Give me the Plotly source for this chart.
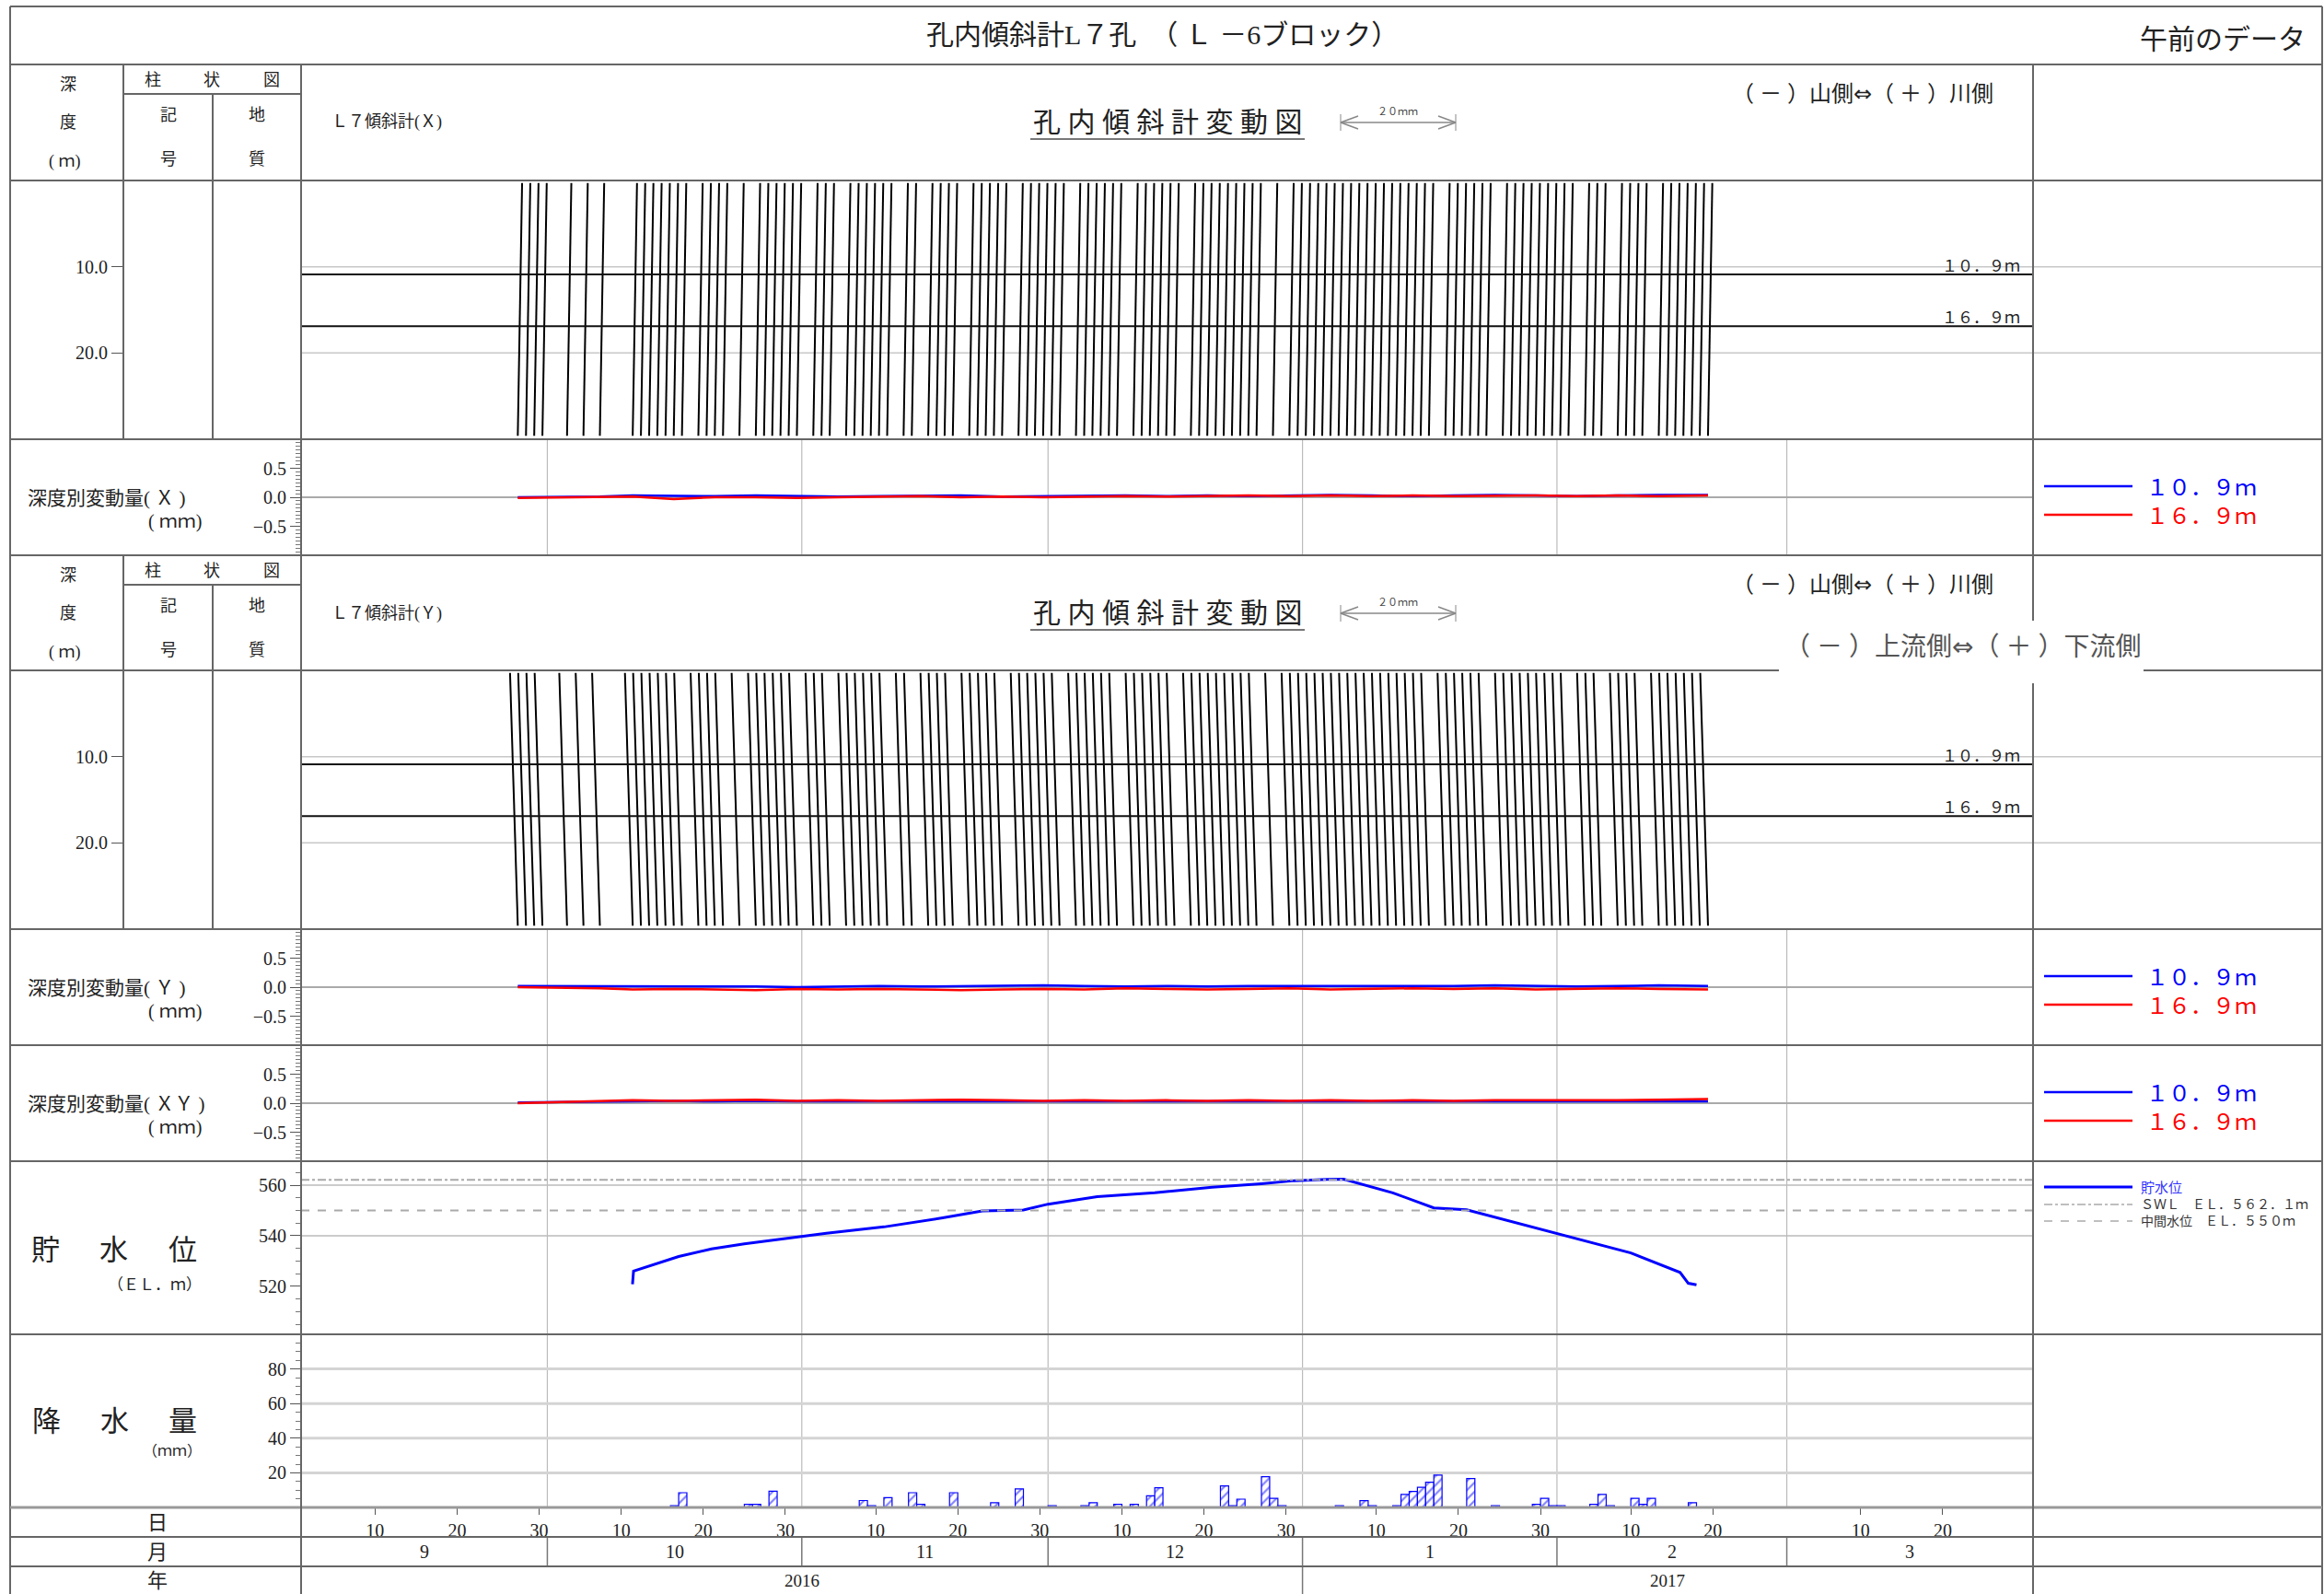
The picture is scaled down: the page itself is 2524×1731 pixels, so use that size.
import plotly.graph_objects as go
import pandas as pd

W, H = 2524, 1731
FONT = "Liberation Serif, Noto Sans CJK JP, serif"

# ---------------- data ----------------
X_START = "2016-09-01"
X_END = "2017-03-31"

title_text = "孔内傾斜計L７孔　（ Ｌ －6ブロック）"
note_text = "午前のデータ"

month_starts = ["2016-09-01", "2016-10-01", "2016-11-01", "2016-12-01",
                "2017-01-01", "2017-02-01", "2017-03-01", "2017-03-31"]
month_labels = ["9", "10", "11", "12", "1", "2", "3"]
year_spans = [("2016-09-01", "2017-01-01"), ("2017-01-01", "2017-03-31")]
year_labels = ["2016", "2017"]
day_ticks = ["2016-09-10", "2016-09-20", "2016-09-30", "2016-10-10", "2016-10-20",
             "2016-10-30", "2016-11-10", "2016-11-20", "2016-11-30", "2016-12-10",
             "2016-12-20", "2016-12-30", "2017-01-10", "2017-01-20", "2017-01-30",
             "2017-02-10", "2017-02-20", "2017-03-10", "2017-03-20"]

# inclinometer profile measurement dates
profile_dates = [
    "2016-09-27", "2016-09-28", "2016-09-29", "2016-09-30", "2016-10-03", "2016-10-05",
    "2016-10-07", "2016-10-11", "2016-10-12", "2016-10-13", "2016-10-14", "2016-10-15",
    "2016-10-16", "2016-10-17", "2016-10-19", "2016-10-20", "2016-10-21", "2016-10-22",
    "2016-10-24", "2016-10-26", "2016-10-27", "2016-10-28", "2016-10-29", "2016-10-30",
    "2016-10-31", "2016-11-02", "2016-11-03", "2016-11-04", "2016-11-06", "2016-11-07",
    "2016-11-08", "2016-11-09", "2016-11-10", "2016-11-11", "2016-11-13", "2016-11-14",
    "2016-11-16", "2016-11-17", "2016-11-18", "2016-11-19", "2016-11-21", "2016-11-22",
    "2016-11-23", "2016-11-24", "2016-11-25", "2016-11-27", "2016-11-28", "2016-11-29",
    "2016-11-30", "2016-12-01", "2016-12-02", "2016-12-04", "2016-12-05", "2016-12-06",
    "2016-12-07", "2016-12-08", "2016-12-09", "2016-12-11", "2016-12-12", "2016-12-13",
    "2016-12-14", "2016-12-15", "2016-12-16", "2016-12-18", "2016-12-19", "2016-12-20",
    "2016-12-21", "2016-12-22", "2016-12-23", "2016-12-24", "2016-12-25", "2016-12-26",
    "2016-12-28", "2016-12-30", "2016-12-31", "2017-01-01", "2017-01-02", "2017-01-03",
    "2017-01-04", "2017-01-05", "2017-01-06", "2017-01-07", "2017-01-08", "2017-01-09",
    "2017-01-10", "2017-01-11", "2017-01-12", "2017-01-13", "2017-01-14", "2017-01-15",
    "2017-01-16", "2017-01-18", "2017-01-19", "2017-01-20", "2017-01-21", "2017-01-22",
    "2017-01-23", "2017-01-25", "2017-01-26", "2017-01-27", "2017-01-28", "2017-01-29",
    "2017-01-30", "2017-01-31", "2017-02-01", "2017-02-02", "2017-02-04", "2017-02-05",
    "2017-02-06", "2017-02-08", "2017-02-09", "2017-02-10", "2017-02-11", "2017-02-13",
    "2017-02-14", "2017-02-15", "2017-02-16", "2017-02-17", "2017-02-18", "2017-02-19",
]
prof_depth = [0.3, 5.0, 9.0, 11.0, 15.0, 19.0, 21.0, 25.0, 29.6]
prof_x_mm = [0.75, 0.62, 0.48, 0.52, 0.36, 0.26, 0.22, 0.1, 0.0]
prof_y_mm = [-1.35, -1.15, -0.95, -0.85, -0.7, -0.48, -0.42, -0.22, 0.0]

# depth-wise displacement (mm)
dev_dates = ["2016-09-27", "2016-10-03", "2016-10-07", "2016-10-11", "2016-10-16",
             "2016-10-21", "2016-10-26", "2016-10-31", "2016-11-05", "2016-11-10",
             "2016-11-15", "2016-11-20", "2016-11-25", "2016-11-30", "2016-12-05",
             "2016-12-10", "2016-12-15", "2016-12-20", "2016-12-25", "2016-12-30",
             "2017-01-04", "2017-01-09", "2017-01-14", "2017-01-19", "2017-01-24",
             "2017-01-29", "2017-02-03", "2017-02-08", "2017-02-13", "2017-02-19"]
dev_x_109 = [0.00, 0.01, 0.01, 0.03, 0.02, 0.02, 0.03, 0.02, 0.01, 0.02, 0.02, 0.03, 0.01, 0.02, 0.02,
             0.03, 0.02, 0.03, 0.02, 0.03, 0.04, 0.03, 0.02, 0.03, 0.04, 0.03, 0.02, 0.03, 0.04, 0.04]
dev_x_169 = [-0.01, 0.00, 0.00, 0.01, -0.03, 0.00, 0.00, -0.01, 0.00, 0.01, 0.02, 0.00, 0.01, 0.00, 0.01,
             0.02, 0.01, 0.02, 0.03, 0.02, 0.03, 0.02, 0.03, 0.02, 0.03, 0.03, 0.02, 0.03, 0.02, 0.03]
dev_y_109 = [0.02, 0.02, 0.01, 0.02, 0.01, 0.02, 0.01, 0.00, 0.01, 0.02, 0.01, 0.02, 0.02, 0.03, 0.02,
             0.01, 0.02, 0.01, 0.02, 0.02, 0.01, 0.02, 0.01, 0.02, 0.03, 0.02, 0.01, 0.02, 0.03, 0.02]
dev_y_169 = [0.00, -0.01, -0.02, -0.04, -0.03, -0.04, -0.05, -0.03, -0.04, -0.03, -0.04, -0.05, -0.04, -0.03, -0.04,
             -0.02, -0.03, -0.04, -0.03, -0.02, -0.04, -0.03, -0.02, -0.03, -0.02, -0.04, -0.03, -0.02, -0.03, -0.04]
dev_xy_109 = [0.01, 0.02, 0.03, 0.03, 0.04, 0.03, 0.04, 0.03, 0.03, 0.04, 0.03, 0.04, 0.03, 0.04, 0.03,
              0.03, 0.04, 0.03, 0.03, 0.04, 0.03, 0.03, 0.04, 0.03, 0.03, 0.04, 0.03, 0.03, 0.04, 0.03]
dev_xy_169 = [0.00, 0.02, 0.04, 0.05, 0.04, 0.05, 0.06, 0.04, 0.05, 0.04, 0.05, 0.06, 0.05, 0.04, 0.05,
              0.04, 0.05, 0.04, 0.05, 0.04, 0.05, 0.04, 0.05, 0.04, 0.05, 0.05, 0.04, 0.05, 0.06, 0.07]

# reservoir water level (EL.m)
wl_dates = ["2016-10-11 09:00", "2016-10-11 12:00", "2016-10-17", "2016-10-21", "2016-10-25",
            "2016-10-29", "2016-11-04", "2016-11-11", "2016-11-18", "2016-11-23", "2016-11-28",
            "2016-12-01", "2016-12-07", "2016-12-14", "2016-12-21", "2016-12-27", "2016-12-31",
            "2017-01-04", "2017-01-06", "2017-01-12", "2017-01-17", "2017-01-21", "2017-02-01",
            "2017-02-10", "2017-02-16", "2017-02-17", "2017-02-18"]
wl_vals = [520.8, 526.0, 531.8, 534.8, 536.8, 538.4, 541.0, 543.5, 547.0, 549.8, 550.2,
           552.5, 555.5, 557.0, 559.2, 560.6, 561.8, 562.3, 562.4, 557.0, 551.0, 550.3, 541.0,
           533.2, 525.5, 521.2, 520.6]
swl_level = 562.1
mid_level = 550.0

# daily precipitation (mm)
rain_dates = ["2016-10-16", "2016-10-17", "2016-10-25", "2016-10-26", "2016-10-28", "2016-11-08",
              "2016-11-09", "2016-11-11", "2016-11-14", "2016-11-15", "2016-11-19", "2016-11-24",
              "2016-11-27", "2016-12-01", "2016-12-05", "2016-12-06", "2016-12-09", "2016-12-11",
              "2016-12-13", "2016-12-14", "2016-12-22", "2016-12-23", "2016-12-24", "2016-12-27",
              "2016-12-28", "2016-12-29", "2017-01-05", "2017-01-08", "2017-01-09", "2017-01-12",
              "2017-01-13", "2017-01-14", "2017-01-15", "2017-01-16", "2017-01-17", "2017-01-21",
              "2017-01-24", "2017-01-29", "2017-01-30", "2017-01-31", "2017-02-01", "2017-02-05",
              "2017-02-06", "2017-02-07", "2017-02-10", "2017-02-11", "2017-02-12", "2017-02-17"]
rain_vals = [1.0, 8.5, 1.8, 1.8, 9.4, 4.0, 1.0, 5.7, 8.5, 1.8, 8.5, 2.7,
             10.7, 1.0, 1.0, 2.7, 1.8, 1.8, 6.7, 11.4, 12.4, 1.0, 4.8, 17.8,
             5.3, 1.0, 1.0, 3.9, 1.0, 1.0, 7.5, 9.2, 11.6, 14.6, 18.7, 16.7,
             1.0, 1.8, 5.3, 1.0, 1.0, 1.8, 7.5, 1.0, 5.3, 1.8, 5.3, 2.7]

# ---------------- helpers ----------------
T0 = pd.Timestamp(X_START)


def dnum(s):
    return (pd.Timestamp(s) - T0) / pd.Timedelta(days=1)


def px(x):
    return x / W


def py(y):
    return 1 - y / H


MEAS_TIME = 0.4          # morning readings (fraction of day)
MM_TO_DAY = 14.0 / 20.0  # 20 mm scale bar = 14 days of the time axis

PL, PR = 327, 2208       # plot area left / right (px)
LEFT, RIGHT = 11, 2522

shapes = []
annotations = []


def line(x0, y0, x1, y1, color="#666", width=2, dash=None, xref="paper", yref="paper", layer="above"):
    shapes.append(dict(type="line", xref=xref, yref=yref, x0=x0, y0=y0, x1=x1, y1=y1,
                       line=dict(color=color, width=width, dash=dash), layer=layer))


def hpx(y, x0, x1, color="#666", width=2, dash=None, layer="above"):
    line(px(x0), py(y), px(x1), py(y), color, width, dash, layer=layer)


def vpx(x, y0, y1, color="#666", width=2, dash=None, layer="above"):
    line(px(x), py(y0), px(x), py(y1), color, width, dash, layer=layer)


def text(x, y, s, size=19, color="#222", xanchor="center", yanchor="middle", xref="paper"):
    annotations.append(dict(x=x if xref != "paper" else px(x), y=py(y), xref=xref, yref="paper",
                            text=s, showarrow=False, xanchor=xanchor, yanchor=yanchor,
                            font=dict(family=FONT, size=size, color=color)))


ARROW = '<span style="font-family:DejaVu Sans">⇔</span>'

# ---------------- traces ----------------
fig = go.Figure()


def profile_trace(offsets_mm, yaxis):
    xs, ys = [], []
    for d in profile_dates:
        base = dnum(d) + MEAS_TIME
        for dep, mm in zip(prof_depth, offsets_mm):
            xs.append(base + mm * MM_TO_DAY)
            ys.append(dep)
        xs.append(None)
        ys.append(None)
    return go.Scatter(x=xs, y=ys, xaxis="x", yaxis=yaxis, mode="lines",
                      line=dict(color="black", width=2), hoverinfo="skip", showlegend=False)


fig.add_trace(profile_trace(prof_x_mm, "y"))
fig.add_trace(profile_trace(prof_y_mm, "y3"))

dev_x = [dnum(d) + MEAS_TIME for d in dev_dates]
for yax, blue, red in [("y2", dev_x_109, dev_x_169), ("y4", dev_y_109, dev_y_169),
                       ("y5", dev_xy_109, dev_xy_169)]:
    fig.add_trace(go.Scatter(x=dev_x, y=blue, xaxis="x", yaxis=yax, mode="lines",
                             line=dict(color="#0000ff", width=2.5), showlegend=False))
    fig.add_trace(go.Scatter(x=dev_x, y=red, xaxis="x", yaxis=yax, mode="lines",
                             line=dict(color="#ff0000", width=2.5), showlegend=False))

fig.add_trace(go.Scatter(x=[dnum(d) for d in wl_dates], y=wl_vals, xaxis="x", yaxis="y6",
                         mode="lines", line=dict(color="#0000ff", width=3), showlegend=False))
fig.add_trace(go.Scatter(x=[0, 211], y=[swl_level, swl_level], xaxis="x", yaxis="y6", mode="lines",
                         line=dict(color="#aaaaaa", width=2, dash="dashdot"), showlegend=False))
fig.add_trace(go.Scatter(x=[0, 211], y=[mid_level, mid_level], xaxis="x", yaxis="y6", mode="lines",
                         line=dict(color="#aaaaaa", width=2, dash="dash"), showlegend=False))

fig.add_trace(go.Bar(x=[dnum(d) + 0.5 for d in rain_dates], y=rain_vals, width=1.0,
                     xaxis="x", yaxis="y7", showlegend=False,
                     marker=dict(color="white", line=dict(color="#0000ff", width=1.2),
                                 pattern=dict(shape="/", fgcolor="#0000ff", bgcolor="white",
                                              size=7, solidity=0.3))))

# ---------------- axes ----------------
tickfont = dict(family=FONT, size=20, color="#222")
xr = [dnum(X_START), dnum(X_END)]
layout_axes = dict(
    xaxis=dict(domain=[px(PL), px(PR)], range=xr, anchor="y7", tickmode="array",
               tickvals=[dnum(d) for d in day_ticks],
               ticktext=[str(pd.Timestamp(d).day) for d in day_ticks],
               ticks="outside", ticklen=7, tickcolor="#555", showgrid=False, zeroline=False,
               showline=False, tickfont=tickfont),
)


def yax(top, bot, rng, tickvals, ticktext, pos, ticklen=12, minor=None):
    d = dict(domain=[py(bot), py(top)], range=rng, anchor="free", position=pos,
             tickmode="array", tickvals=tickvals, ticktext=ticktext, ticks="outside",
             ticklen=ticklen, tickcolor="#555", showgrid=False, zeroline=False, showline=False,
             tickfont=tickfont)
    if minor:
        d["minor"] = dict(tickmode="linear", tick0=0, dtick=minor, ticks="outside", ticklen=6,
                          tickcolor="#777", showgrid=False)
    return d


dev_ticks = ([-0.5, 0, 0.5], ["−0.5", "0.0", "0.5"])
layout_axes["yaxis"] = yax(196, 477, [30, 0], [10, 20], ["10.0", "20.0"], px(134), 13)
layout_axes["yaxis2"] = yax(477, 603, [-1, 1], *dev_ticks, px(PL), 12, 0.0625)
layout_axes["yaxis3"] = yax(728, 1009, [30, 0], [10, 20], ["10.0", "20.0"], px(134), 13)
layout_axes["yaxis4"] = yax(1009, 1135, [-1, 1], *dev_ticks, px(PL), 12, 0.0625)
layout_axes["yaxis5"] = yax(1135, 1261, [-1, 1], *dev_ticks, px(PL), 12, 0.0625)
layout_axes["yaxis6"] = yax(1261, 1449, [501, 569.5], [520, 540, 560], ["520", "540", "560"], px(PL), 12, 5)
layout_axes["yaxis7"] = yax(1449, 1637, [0, 100], [20, 40, 60, 80], ["20", "40", "60", "80"], px(PL), 12, 5)

# ---------------- frame / grid ----------------
GRID = "#c8c8c8"
for ms in month_starts[1:-1]:
    xv = dnum(ms)
    for top, bot in [(477, 603), (1009, 1261), (1261, 1637)]:
        line(xv, py(top), xv, py(bot), "#bbbbbb", 1.2, xref="x", layer="below")
    line(xv, py(1669), xv, py(1701), "#777", 1.5, xref="x")
line(dnum("2017-01-01"), py(1701), dnum("2017-01-01"), py(1731), "#777", 1.5, xref="x")

for top in (196, 728):
    for dep in (10, 20):
        yy = top + dep * (281 / 30)
        hpx(yy, PL, RIGHT, GRID, 1.5, layer="below")
    for dep, lab in [(10.9, "１０．９ｍ"), (16.9, "１６．９ｍ")]:
        yy = top + dep * (281 / 30)
        hpx(yy, PL, PR, "#111", 2)
        text(2196, yy - 9, lab, size=17, color="#222", xanchor="right")

for top in (477, 1009, 1135):
    hpx(top + 63, PL, PR, "#aaaaaa", 2, layer="below")
for v in (540, 560):
    yy = 1261 + (569.5 - v) * (188 / 68.5)
    hpx(yy, PL, PR, "#bbbbbb", 1.5, layer="below")
for v in (20, 40, 60, 80):
    yy = 1637 - v * 1.88
    hpx(yy, PL, PR, "#d4d4d4", 3, layer="below")

BORDER = "#666"
hpx(7, LEFT, RIGHT, BORDER, 2)
vpx(LEFT, 7, 1731, BORDER, 2)
vpx(RIGHT, 7, 1731, BORDER, 2)
for yy in (70, 196, 477, 603, 728, 1009, 1135, 1261, 1449, 1669, 1701):
    hpx(yy, LEFT, RIGHT, BORDER, 2)
hpx(1637, LEFT, RIGHT, "#999", 3)
vpx(PL, 70, 1731, BORDER, 2)
vpx(PR, 70, 1731, BORDER, 2)
for top in (70, 603):
    vpx(134, top, top + 407, BORDER, 2)
    vpx(231, top + 32, top + 407, BORDER, 2)
    hpx(top + 32, 134, PL, BORDER, 2)

# ---------------- texts ----------------
text(1262, 37, title_text, size=30)
text(2414, 42, note_text, size=30)

for top, lab in [(70, "Ｌ７傾斜計(Ｘ)"), (603, "Ｌ７傾斜計(Ｙ)")]:
    text(74, top + 22, "深", 18)
    text(74, top + 63, "度", 18)
    text(70, top + 105, "( ｍ)", 18)
    text(166, top + 17, "柱", 18)
    text(230, top + 17, "状", 18)
    text(295, top + 17, "図", 18)
    text(183, top + 55, "記", 18)
    text(183, top + 103, "号", 18)
    text(279, top + 55, "地", 18)
    text(279, top + 103, "質", 18)
    text(358, top + 63, lab, 18, xanchor="left")
    text(1268, top + 62, "孔 内 傾 斜 計 変 動 図", 30)
    hpx(top + 81, 1119, 1417, "#777", 2)
    hpx(top + 63, 1456, 1581, "#888", 1.5)
    line(px(1456), py(top + 63), px(1475), py(top + 56), "#888", 1.5)
    line(px(1456), py(top + 63), px(1475), py(top + 70), "#888", 1.5)
    line(px(1581), py(top + 63), px(1562), py(top + 56), "#888", 1.5)
    line(px(1581), py(top + 63), px(1562), py(top + 70), "#888", 1.5)
    vpx(1456, top + 54, top + 72, "#888", 1)
    vpx(1581, top + 54, top + 72, "#888", 1)
    text(1518, top + 51, "２０ｍｍ", 11, color="#444")
    text(2023, top + 32, "（ － ）山側" + ARROW + "（ ＋ ）川側", 24)

shapes.append(dict(type="rect", xref="paper", yref="paper", x0=px(1932), x1=px(2328),
                   y0=py(742), y1=py(674), fillcolor="white", line=dict(width=0), layer="above"))
text(2132, 702, "（ － ）上流側" + ARROW + "（ ＋ ）下流側", 28, color="#555")

for top, lab in [(477, "深度別変動量( Ｘ )"), (1009, "深度別変動量( Ｙ )"), (1135, "深度別変動量( ＸＹ )")]:
    text(28, top + 64, lab, 21, xanchor="left")
    text(221, top + 89, "( ｍｍ)", 20, xanchor="right")
    hpx(top + 51, 2220, 2316, "#0000ff", 2.5)
    hpx(top + 82, 2220, 2316, "#ff0000", 2.5)
    text(2329, top + 53, "１０．９ｍ", 24, color="#0000ff", xanchor="left")
    text(2329, top + 84, "１６．９ｍ", 24, color="#ff0000", xanchor="left")

for cx, ch in [(49, "貯"), (123, "水"), (198, "位")]:
    text(cx, 1357, ch, 31)
text(221, 1395, "（ＥＬ．ｍ）", 17, xanchor="right")
for cx, ch in [(50, "降"), (124, "水"), (199, "量")]:
    text(cx, 1543, ch, 31)
text(221, 1575, "（ｍｍ）", 16, xanchor="right")

hpx(1289, 2220, 2316, "#0000ff", 3)
hpx(1308, 2220, 2316, "#aaaaaa", 1.5, dash="dashdot")
hpx(1326, 2220, 2316, "#aaaaaa", 1.5, dash="dash")
text(2323, 1290, "貯水位", 15, color="#3333ff", xanchor="left")
text(2323, 1308, "ＳＷＬ　ＥＬ．５６２．１ｍ", 14, color="#333", xanchor="left")
text(2323, 1326, "中間水位　ＥＬ．５５０ｍ", 14, color="#333", xanchor="left")

text(171, 1653, "日", 22)
text(171, 1685, "月", 22)
text(171, 1716, "年", 22)
for i, lab in enumerate(month_labels):
    mid = (dnum(month_starts[i]) + dnum(month_starts[i + 1])) / 2
    text(mid, 1685, lab, 20, xref="x")
for (a, b), lab in zip(year_spans, year_labels):
    text((dnum(a) + dnum(b)) / 2, 1716, lab, 19, xref="x")

fig.update_layout(
    width=W, height=H, margin=dict(l=0, r=0, t=0, b=0),
    paper_bgcolor="white", plot_bgcolor="rgba(0,0,0,0)",
    shapes=shapes, annotations=annotations, showlegend=False, barmode="overlay",
    **layout_axes,
)
fig.write_html("out.html")
